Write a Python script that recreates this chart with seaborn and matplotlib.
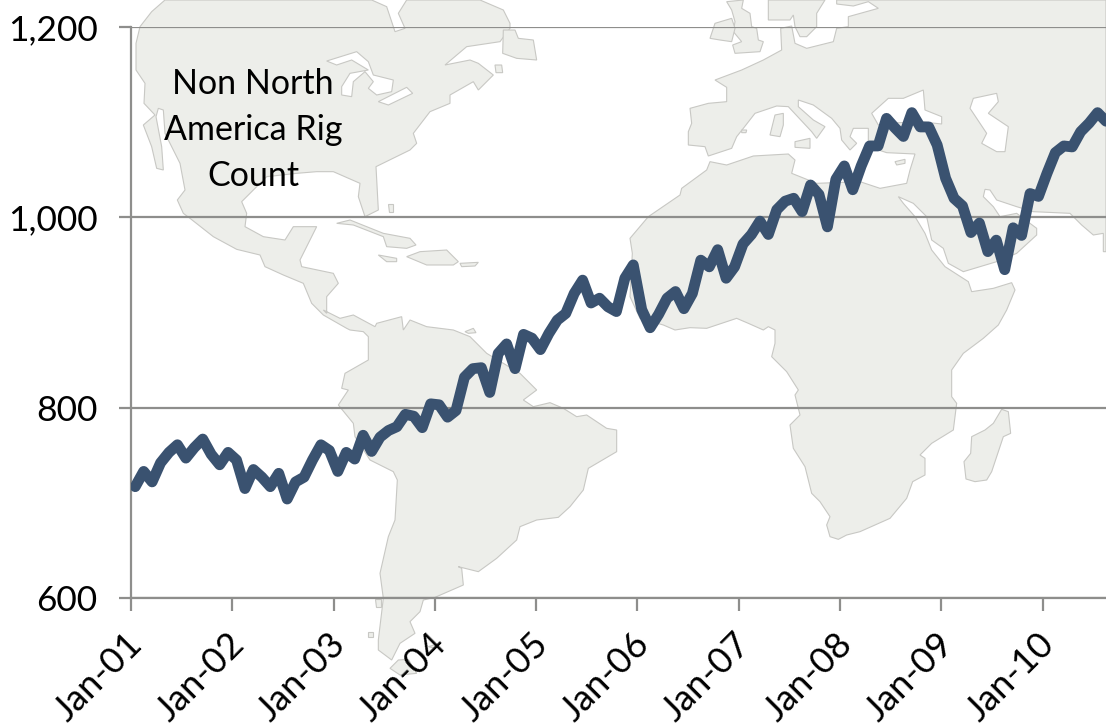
"""Non North America rig count over a light world map background."""

import numpy as np
import pandas as pd
import matplotlib.pyplot as plt
import seaborn as sns
from matplotlib.transforms import Affine2D, ScaledTranslation

sns.set_theme(style='white')
plt.rcParams['font.family'] = ['Lato', 'DejaVu Sans']

# Monthly rig count, Jan-01 onwards
rig_count = [
    717, 733, 722, 742, 753, 761, 747, 758, 767, 751, 740, 753,
    745, 715, 735, 727, 717, 731, 704, 722, 727, 745, 761, 755,
    733, 753, 746, 771, 754, 769, 776, 780, 793, 791, 779, 804,
    803, 790, 797, 832, 841, 842, 816, 857, 867, 841, 877, 873,
    861, 878, 892, 899, 920, 934, 910, 915, 906, 901, 936, 950,
    903, 884, 898, 915, 922, 904, 920, 955, 948, 966, 936, 948,
    972, 982, 996, 982, 1008, 1017, 1020, 1006, 1034, 1024, 990, 1040,
    1054, 1029, 1054, 1075, 1075, 1104, 1094, 1085, 1110, 1095, 1095, 1076,
    1041, 1020, 1012, 984, 994, 964, 976, 945, 989, 981, 1025, 1022,
    1046, 1068, 1075, 1074, 1090, 1099, 1110, 1101,
]
year_labels = ['Jan-01', 'Jan-02', 'Jan-03', 'Jan-04', 'Jan-05',
               'Jan-06', 'Jan-07', 'Jan-08', 'Jan-09', 'Jan-10']
y_ticks = [600, 800, 1000, 1200]
y_labels = ['600', '800', '1,000', '1,200']
chart_title = 'Non North\nAmerica Rig\nCount'

LINE_COLOR = '#3A5270'
GRID_COLOR = '#8E8E8C'
LAND_FILL = '#EDEEEA'
LAND_EDGE = '#C8C8C4'

W, H = 1106, 726


def crop(x0, y0, pts):
    # outlines were traced on 3x crops of the picture
    return [(x0 + x / 3, y0 + y / 3) for x, y in pts]


# Americas, traced in three pieces
americas = (
    crop(120, 0, [
        (135, 0), (95, 35), (60, 80), (48, 130), (48, 210), (75, 250), (72, 310), (105, 345),
        (70, 375), (95, 440), (110, 505), (130, 510), (125, 440), (108, 350), (115, 325),
        (130, 330), (135, 400), (150, 430), (180, 490), (195, 570), (172, 600), (190, 640),
        (210, 655), (280, 710), (350, 748), (420, 765), (435, 800), (490, 825), (550, 850),
        (575, 910), (610, 945), (680, 985),
    ])
    + crop(320, 310, [
        (90, 60), (130, 65), (145, 80), (145, 150), (75, 190), (65, 235), (85, 240), (55, 285),
        (100, 340), (105, 380), (150, 450), (220, 485), (232, 510), (225, 630), (205, 680),
        (180, 790), (190, 865), (175, 990), (175, 1020), (215, 1050), (240, 1000), (285, 970),
        (270, 935), (300, 905), (310, 870), (345, 862), (430, 825), (425, 775), (415, 770),
        (475, 785), (530, 745), (590, 690), (600, 650), (650, 630), (715, 622), (750, 590),
        (790, 540), (805, 475), (890, 425), (890, 360), (860, 355), (800, 315), (770, 320),
        (730, 295), (690, 278), (640, 290), (610, 270), (650, 240), (600, 190), (500, 130),
        (450, 80), (400, 60), (320, 50), (270, 30), (250, 60), (245, 20), (170, 40), (165, 50),
        (100, 15), (60, 25), (10, 0),
    ])
    + crop(120, 0, [
        (620, 940), (620, 890), (655, 850), (640, 820), (545, 800), (540, 780), (560, 740),
        (590, 680), (520, 680), (495, 720), (430, 710), (375, 680), (380, 640), (365, 605),
        (400, 570), (440, 530), (530, 520), (590, 515), (640, 515), (720, 550), (715, 590),
        (735, 650), (775, 630), (768, 500), (870, 450), (890, 430), (880, 400), (930, 335),
        (990, 310), (990, 285), (1060, 245), (1075, 270), (1120, 225), (1075, 190), (1050, 180),
        (975, 195), (1040, 140), (1140, 125), (1170, 85), (1170, 70), (1150, 30), (1080, 0),
        (860, 0), (835, 40), (855, 85), (825, 95), (810, 50), (800, 20), (755, 0),
    ])
)

# Eurasia and Africa as one outline
old_world = (
    crop(620, 0, [
        (210, 325), (265, 310), (320, 305), (320, 262), (285, 240), (365, 210), (430, 180),
        (485, 150), (482, 85), (515, 78), (525, 130), (560, 145), (640, 125), (650, 85),
        (685, 80), (685, 50), (775, 25), (745, 5), (700, 18), (650, 12), (650, 0), (1458, 0),
        (1458, 755), (1450, 755), (1450, 700), (1420, 705), (1385, 675), (1350, 640),
        (1240, 635), (1190, 620), (1130, 600), (1110, 570), (1095, 568), (1090, 590),
        (1120, 620), (1140, 650), (1190, 640), (1250, 685), (1250, 705), (1190, 760),
        (1130, 785), (1030, 815), (985, 790), (970, 745), (935, 720), (920, 650), (880, 610),
        (835, 590), (850, 610), (885, 650), (915, 700), (935, 750), (975, 800), (1045, 845),
        (1055, 875), (1120, 865),
    ])
    + crop(620, 280, [
        (1175, 8), (1185, 30), (1160, 90), (1135, 135), (1090, 175), (1030, 220), (995, 270),
        (995, 350), (1010, 370), (1000, 450), (935, 490), (900, 525), (915, 535), (915, 585),
        (878, 605), (860, 655), (810, 715), (720, 755), (680, 765), (655, 778), (630, 770),
        (620, 735), (630, 710), (600, 665), (575, 640), (555, 560), (520, 505), (510, 435),
        (540, 405), (525, 345), (535, 330), (500, 275), (455, 230), (465, 190), (465, 150),
        (445, 140), (430, 150), (385, 130), (350, 115), (260, 145), (210, 143), (165, 150),
        (130, 135), (60, 115), (30, 50),
    ])
    + crop(620, 0, [
        (37, 760), (30, 715), (85, 650), (180, 585), (185, 565), (260, 510), (270, 485),
        (320, 495), (400, 468), (505, 462), (525, 480), (515, 520), (590, 550), (720, 545),
        (780, 565), (860, 550), (870, 510), (885, 462), (800, 458), (745, 440), (745, 385),
        (700, 385), (690, 410), (710, 430), (690, 450), (665, 420), (660, 385), (635, 355),
        (580, 315), (535, 300), (535, 320), (580, 360), (615, 380), (590, 415), (575, 395),
        (505, 320), (470, 318), (405, 340), (370, 385), (350, 410), (335, 445), (265, 468),
        (255, 440), (205, 435), (205, 395), (215, 370),
    ])
)

islands = [
    crop(120, 0, [(1150, 90), (1185, 90), (1195, 115), (1240, 120), (1250, 180), (1190, 175), (1148, 160)]),
    crop(120, 0, [(650, 670), (690, 660), (790, 700), (870, 715), (888, 735), (860, 745), (800, 740), (790, 710), (700, 675)]),
    crop(120, 0, [(860, 770), (900, 755), (980, 750), (1015, 785), (1000, 795), (920, 795)]),
    crop(120, 0, [(775, 765), (830, 775), (830, 785), (800, 785)]),
    crop(120, 0, [(1020, 790), (1075, 787), (1065, 798), (1025, 800)]),
    crop(120, 0, [(1125, 195), (1145, 195), (1148, 218), (1128, 218)]),
    crop(120, 0, [(803, 612), (820, 612), (820, 635), (808, 635)]),
    crop(320, 310, [(210, 1075), (235, 1050), (265, 1048), (290, 1090), (240, 1095)]),
    crop(320, 310, [(325, 1010), (350, 1003), (345, 1015)]),
    crop(320, 310, [(145, 965), (160, 965), (160, 980), (145, 980)]),
    crop(320, 310, [(165, 868), (183, 868), (183, 890), (168, 890)]),
    crop(320, 310, [(435, 65), (460, 55), (468, 68), (445, 70)]),
    crop(620, 0, [(465, 345), (490, 340), (490, 375), (480, 410), (450, 405)]),
    crop(620, 0, [(525, 425), (570, 415), (570, 445), (525, 442)]),
    crop(620, 0, [(825, 485), (855, 478), (855, 490), (830, 495)]),
    crop(620, 0, [(365, 390), (380, 390), (378, 398), (365, 398)]),
    crop(620, 0, [(320, 5), (370, 0), (365, 25), (390, 40), (395, 80), (410, 85), (415, 120), (430, 125),
                  (420, 155), (345, 160), (338, 135), (365, 125), (340, 95), (345, 65), (335, 30)]),
    crop(620, 0, [(285, 70), (335, 55), (345, 85), (335, 125), (300, 120), (270, 115)]),
    crop(620, 0, [(445, 0), (445, 60), (510, 60), (520, 45), (525, 80), (540, 110), (560, 110),
                  (590, 80), (590, 40), (615, 0)]),
    crop(620, 280, [(1145, 388), (1165, 395), (1172, 460), (1150, 470), (1115, 575), (1100, 600),
                    (1065, 605), (1038, 597), (1032, 545), (1052, 520), (1055, 470), (1095, 450), (1120, 430)]),
]

# water inside the land
waters = [
    crop(120, 0, [(620, 183), (710, 155), (745, 185), (760, 225), (820, 240), (815, 275), (770, 285),
                  (745, 265), (760, 245), (735, 215), (700, 245), (695, 290), (665, 285), (665, 260),
                  (690, 220), (745, 210), (695, 180), (650, 195)]),
    crop(120, 0, [(775, 305), (860, 262), (878, 280), (805, 315)]),
    crop(620, 0, [(755, 340), (805, 295), (850, 295), (910, 270), (915, 330), (965, 350), (965, 372),
                  (900, 365), (800, 370), (775, 375)]),
    crop(620, 0, [(1050, 325), (1060, 295), (1130, 280), (1135, 305), (1105, 340), (1165, 380),
                  (1155, 455), (1130, 455), (1085, 430), (1100, 400)]),
]

fig = plt.figure(figsize=(W / 100, H / 100), dpi=100)
ax = fig.add_axes([131 / W, 1 - 598 / H, (W - 131) / W, (598 - 27) / H])
ax.patch.set_alpha(0)

# map shapes are laid out in picture pixels, y going down
pixel_tf = Affine2D().scale(1 / W, -1 / H).translate(0, 1) + fig.transFigure
for shape, face in [(americas, LAND_FILL), (old_world, LAND_FILL)] + [(s, LAND_FILL) for s in islands] + [(s, 'white') for s in waters]:
    xs, ys = zip(*shape)
    ax.fill(xs, ys, facecolor=face, edgecolor=LAND_EDGE, lw=0.8, transform=pixel_tf, clip_on=False, zorder=0)

df = pd.DataFrame({'month': np.arange(len(rig_count)), 'rigs': rig_count})
sns.lineplot(data=df, x='month', y='rigs', ax=ax, color=LINE_COLOR, lw=7.8, zorder=3,
             solid_joinstyle='round', solid_capstyle='round')

ax.set_xlim(-0.5, 115)
ax.set_ylim(600, 1200)
ax.set_xlabel('')
ax.set_ylabel('')
ax.set_xticks([-0.5 + 12 * i for i in range(len(year_labels))])
ax.set_xticklabels(year_labels, rotation=45, ha='right', rotation_mode='default', fontsize=26, color='black')
ax.set_yticks(y_ticks)
ax.set_yticklabels(y_labels, fontsize=25.5, color='black')

ax.grid(axis='y', color=GRID_COLOR, lw=1.6, zorder=1)
ax.set_axisbelow(True)
ax.tick_params(axis='y', length=9, width=1.6, color=GRID_COLOR, direction='out', pad=15, left=True)
ax.tick_params(axis='x', length=9, width=1.6, color=GRID_COLOR, direction='out', pad=12, bottom=True)
for side in ['top', 'right']:
    ax.spines[side].set_visible(False)
for side in ['left', 'bottom']:
    ax.spines[side].set_color(GRID_COLOR)
    ax.spines[side].set_linewidth(1.6)
    ax.spines[side].set_zorder(2)

# rotated labels sit a little to the right of their tick
shift = ScaledTranslation(18 / 100, 0, fig.dpi_scale_trans)
for lab in ax.get_xticklabels():
    lab.set_transform(lab.get_transform() + shift)

ax.text(253, 130, chart_title, transform=pixel_tf, ha='center', va='center', fontsize=24.5,
        color='black', linespacing=1.55, zorder=4)

fig.savefig('out.png', dpi=100)
